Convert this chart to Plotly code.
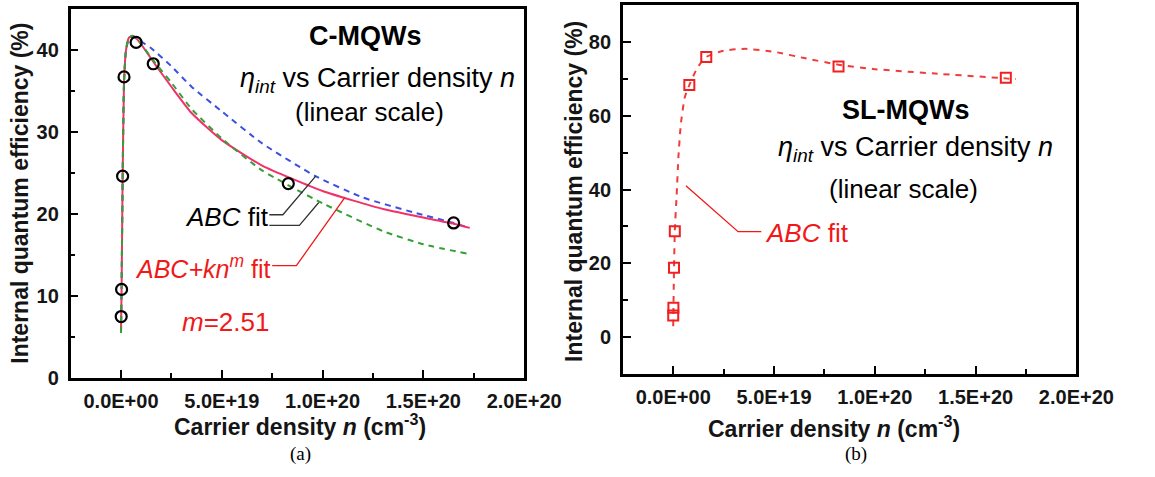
import plotly.graph_objects as go

W, H = 1155, 477

# ---------------- data: panel (a) C-MQWs ----------------
a_meas_n = [0.1e18, 0.3e18, 0.8e18, 1.5e18, 7.5e18, 1.6e19, 8.3e19, 1.65e20]
a_meas_eta = [7.5, 10.8, 24.6, 36.7, 40.9, 38.3, 23.7, 18.9]

a_abc_blue_n = [0.0, 0.3e18, 0.8e18, 1.5e18, 2.5e18, 4e18, 6e18, 8e18, 1.5e19, 2.5e19,
                3.5e19, 5e19, 7e19, 9.65e19, 1.2e20, 1.45e20, 1.65e20, 1.73e20]
a_abc_blue_eta = [5.5, 11.0, 24.0, 36.0, 40.0, 41.4, 41.6, 41.3, 40.2, 38.0,
                  35.5, 32.5, 28.6, 24.6, 22.0, 20.2, 18.9, 18.3]

a_abckn_red_n = [0.0, 0.3e18, 0.8e18, 1.5e18, 2.5e18, 4e18, 6e18, 9e18, 1.7e19, 2.5e19,
                 3.5e19, 5e19, 7e19, 1.0e20, 1.3e20, 1.65e20, 1.73e20]
a_abckn_red_eta = [5.5, 11.0, 24.0, 36.0, 40.0, 41.5, 41.7, 41.0, 38.2, 35.5,
                   32.3, 29.0, 25.9, 22.8, 20.6, 18.8, 18.3]

a_abc_green_n = [0.0, 0.3e18, 0.8e18, 1.5e18, 2.5e18, 4e18, 6e18, 9e18, 1.7e19, 2.5e19,
                 3.5e19, 5e19, 7e19, 1.0e20, 1.3e20, 1.5e20, 1.73e20]
a_abc_green_eta = [5.5, 11.0, 24.0, 36.0, 40.0, 41.5, 41.7, 41.0, 38.4, 36.0,
                   32.8, 29.2, 25.3, 21.3, 17.9, 16.3, 15.1]

# ---------------- data: panel (b) SL-MQWs ----------------
b_meas_n = [0.0, 0.1e18, 0.4e18, 0.8e18, 8e18, 1.64e19, 8.2e19, 1.65e20]
b_meas_eta = [5.9, 8.0, 18.8, 28.7, 68.3, 75.9, 73.3, 70.3]

b_fit_n = [0.0, 0.3e18, 0.8e18, 1.7e18, 2.6e18, 3.8e18, 5.7e18, 8e18, 1.2e19, 1.64e19,
           2.5e19, 3.6e19, 5e19, 6.5e19, 8.2e19, 1.0e20, 1.3e20, 1.65e20, 1.7e20]
b_fit_eta = [3.0, 15.0, 29.0, 38.4, 49.0, 57.8, 64.9, 68.3, 73.0, 75.9,
             77.6, 78.1, 77.3, 75.6, 73.8, 72.6, 71.4, 70.1, 69.9]

# ---------------- axis ticks ----------------
x_tickvals = [0, 5e19, 1e20, 1.5e20, 2e20]
x_ticktext = ["0.0E+00", "5.0E+19", "1.0E+20", "1.5E+20", "2.0E+20"]
x_minor = [-2.5e19, 2.5e19, 7.5e19, 1.25e20, 1.75e20]
ya_tickvals = [0, 10, 20, 30, 40]
ya_minor = [5, 15, 25, 35]
yb_tickvals = [0, 20, 40, 60, 80]
yb_minor = [-10, 10, 30, 50, 70]

FONT = "Liberation Sans"
TXT = "#151515"
RED = "#f01818"


def px(x):
    return x / W


def py(y):
    return 1 - y / H


fig = go.Figure()

# panel a curves
fig.add_trace(go.Scatter(x=a_abc_blue_n, y=a_abc_blue_eta, mode="lines", xaxis="x", yaxis="y",
                         line=dict(color="#3b4fe0", width=2, dash="6px,5px", shape="spline", smoothing=0.5)))
fig.add_trace(go.Scatter(x=a_abckn_red_n, y=a_abckn_red_eta, mode="lines", xaxis="x", yaxis="y",
                         line=dict(color="#f2306a", width=2, shape="spline", smoothing=0.5)))
fig.add_trace(go.Scatter(x=a_abc_green_n, y=a_abc_green_eta, mode="lines", xaxis="x", yaxis="y",
                         line=dict(color="#35a035", width=2, dash="6px,5px", shape="spline", smoothing=0.5)))
fig.add_trace(go.Scatter(x=a_meas_n, y=a_meas_eta, mode="markers", xaxis="x", yaxis="y",
                         marker=dict(symbol="circle-open", size=11, color="black", line=dict(width=2.2, color="black"))))

# panel b
fig.add_trace(go.Scatter(x=b_fit_n, y=b_fit_eta, mode="lines", xaxis="x2", yaxis="y2",
                         line=dict(color="#f23a3a", width=2, dash="6px,6px", shape="spline", smoothing=0.5)))
fig.add_trace(go.Scatter(x=b_meas_n, y=b_meas_eta, mode="markers", xaxis="x2", yaxis="y2",
                         marker=dict(symbol="square-open", size=10, color="#f02020", line=dict(width=2, color="#f02020"))))

axis_common = dict(showline=True, mirror=True, linecolor="black", linewidth=2.5,
                   ticks="inside", ticklen=8, tickwidth=2, tickcolor="black",
                   showgrid=False, zeroline=False,
                   tickfont=dict(family=FONT, size=20, color=TXT, weight="bold"))
minor_common = dict(tickmode="array", ticks="inside", ticklen=5, tickwidth=2, tickcolor="black")

fig.update_layout(
    width=W, height=H, margin=dict(l=0, r=0, t=0, b=0),
    paper_bgcolor="white", plot_bgcolor="white", showlegend=False,
    xaxis=dict(domain=[px(73), px(542)], range=[-2.5e19, 2.0e20], anchor="y",
               tickmode="array", tickvals=x_tickvals, ticktext=x_ticktext, ticklabelstandoff=3,
               minor=dict(tickvals=x_minor, **minor_common), **axis_common),
    yaxis=dict(domain=[py(387), py(9)], range=[0, 45], anchor="x",
               tickmode="array", tickvals=ya_tickvals, ticklabelstandoff=5,
               minor=dict(tickvals=ya_minor, **minor_common), **axis_common),
    xaxis2=dict(domain=[px(644), px(1113)], range=[-2.5e19, 2.0e20], anchor="y2",
                tickmode="array", tickvals=x_tickvals, ticktext=x_ticktext, ticklabelstandoff=3,
                minor=dict(tickvals=x_minor, **minor_common), **axis_common),
    yaxis2=dict(domain=[py(383), py(5)], range=[-10, 90], anchor="x2",
                tickmode="array", tickvals=yb_tickvals, ticklabelstandoff=5,
                minor=dict(tickvals=yb_minor, **minor_common), **axis_common),
)

ann = []


def add_text(text, x, y, size, color="black", family=FONT, angle=0, bold=False, xanchor="center"):
    ann.append(dict(text=text, x=px(x), y=py(y), xref="paper", yref="paper", showarrow=False,
                    xanchor=xanchor, yanchor="middle", textangle=angle,
                    font=dict(family=family, size=size, color=color, weight="bold" if bold else "normal")))


# axis titles
add_text("Carrier density <i>n</i> (cm<sup>-3</sup>)", 310, 435, 23, color=TXT, bold=True)
add_text("Carrier density <i>n</i> (cm<sup>-3</sup>)", 862, 437, 23, color=TXT, bold=True)
add_text("Internal quantum efficiency (%)", 21, 198, 23, color=TXT, angle=-90, bold=True)
add_text("Internal quantum efficiency (%)", 594, 196, 23, color=TXT, angle=-90, bold=True)

# captions
add_text("(a)", 311, 465, 19, family="Liberation Serif")
add_text("(b)", 885, 465, 19, family="Liberation Serif")

# panel a labels
add_text("C-MQWs", 377, 37, 27, bold=True)
add_text("<i>η<sub>int</sub></i> vs Carrier density <i>n</i>", 390, 82, 27)
add_text("(linear scale)", 382, 115, 26)
add_text("<i>ABC</i> fit", 280, 222, 26, xanchor="right")
add_text("<i>ABC+kn<sup>m</sup></i> fit", 281, 273, 25, color=RED, xanchor="right")
add_text("<i>m</i>=2.51", 233, 330, 26, color=RED)

# panel b labels
add_text("SL-MQWs", 937, 113, 27, bold=True)
add_text("<i>η<sub>int</sub></i> vs Carrier density <i>n</i>", 947, 153, 27)
add_text("(linear scale)", 934, 193, 26)
add_text("<i>ABC</i> fit", 789, 238, 26, color=RED, xanchor="left")

fig.update_layout(annotations=ann)

# leader lines (data coordinates)
shapes = [
    dict(type="path", xref="x", yref="y", path="M 7.36e19 19.9 L 8.03e19 19.9 L 9.66e19 24.6",
         line=dict(color="#333", width=1.3)),
    dict(type="path", xref="x", yref="y", path="M 7.36e19 18.6 L 8.85e19 18.6 L 9.81e19 21.4",
         line=dict(color="#333", width=1.3)),
    dict(type="path", xref="x", yref="y", path="M 7.5e19 13.7 L 8.7e19 13.7 L 1.11e20 22.0",
         line=dict(color=RED, width=1.3)),
    dict(type="path", xref="x2", yref="y2", path="M 0.63e19 41.0 L 3.22e19 28.6 L 4.37e19 28.6",
         line=dict(color=RED, width=1.3)),
]
fig.update_layout(shapes=shapes)

fig.write_html("out.html")
